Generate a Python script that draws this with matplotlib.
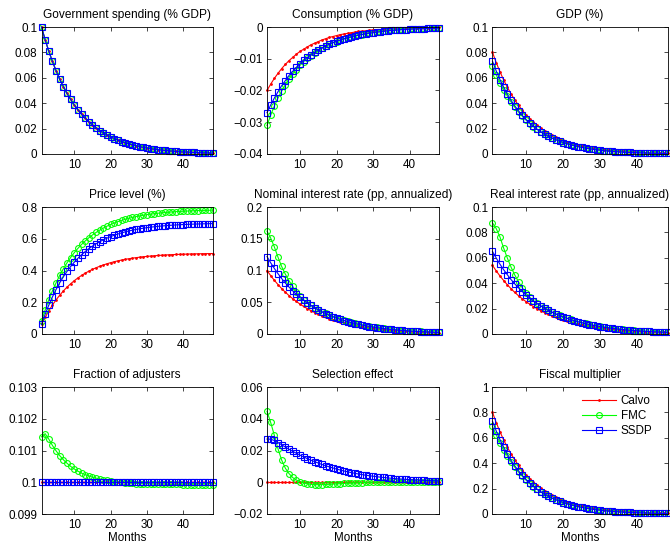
import matplotlib
matplotlib.use('Agg')
from matplotlib import pyplot as plt
from matplotlib.ticker import FuncFormatter
import numpy as np

plt.rcParams['font.family'] = ['Liberation Sans', 'DejaVu Sans']
plt.rcParams['font.size'] = 8.4

months = np.arange(1, 49)

#%% DATA

gov = [0.1000, 0.0900, 0.0810, 0.0729, 0.0656, 0.0590, 0.0531, 0.0478,
       0.0430, 0.0387, 0.0349, 0.0314, 0.0282, 0.0254, 0.0229, 0.0206,
       0.0185, 0.0167, 0.0150, 0.0135, 0.0122, 0.0109, 0.0098, 0.0089,
       0.0080, 0.0072, 0.0065, 0.0058, 0.0052, 0.0047, 0.0042, 0.0038,
       0.0034, 0.0031, 0.0028, 0.0025, 0.0023, 0.0020, 0.0018, 0.0016,
       0.0015, 0.0013, 0.0012, 0.0011, 0.0010, 0.0009, 0.0008, 0.0007]

cons_calvo = [-0.0200, -0.0180, -0.0162, -0.0146, -0.0131, -0.0118, -0.0106, -0.0096,
              -0.0086, -0.0077, -0.0070, -0.0063, -0.0056, -0.0051, -0.0046, -0.0041,
              -0.0037, -0.0033, -0.0030, -0.0027, -0.0024, -0.0022, -0.0020, -0.0018,
              -0.0016, -0.0014, -0.0013, -0.0012, -0.0010, -0.0009, -0.0008, -0.0008,
              -0.0007, -0.0006, -0.0006, -0.0005, -0.0004, -0.0004, -0.0004, -0.0003,
              -0.0003, -0.0003, -0.0002, -0.0002, -0.0002, -0.0002, -0.0002, -0.0001]
cons_fmc = [-0.0310, -0.0278, -0.0249, -0.0224, -0.0202, -0.0182, -0.0164, -0.0148,
            -0.0134, -0.0121, -0.0109, -0.0099, -0.0090, -0.0081, -0.0074, -0.0067,
            -0.0061, -0.0055, -0.0050, -0.0046, -0.0042, -0.0038, -0.0035, -0.0032,
            -0.0029, -0.0026, -0.0024, -0.0022, -0.0020, -0.0018, -0.0016, -0.0015,
            -0.0014, -0.0012, -0.0011, -0.0010, -0.0009, -0.0008, -0.0008, -0.0007,
            -0.0006, -0.0006, -0.0005, -0.0005, -0.0004, -0.0004, -0.0004, -0.0003]
cons_ssdp = [-0.0270, -0.0246, -0.0224, -0.0204, -0.0185, -0.0169, -0.0153, -0.0140,
             -0.0127, -0.0116, -0.0105, -0.0096, -0.0087, -0.0079, -0.0072, -0.0066,
             -0.0060, -0.0054, -0.0049, -0.0045, -0.0041, -0.0037, -0.0034, -0.0031,
             -0.0028, -0.0026, -0.0023, -0.0021, -0.0019, -0.0018, -0.0016, -0.0015,
             -0.0013, -0.0012, -0.0011, -0.0010, -0.0009, -0.0008, -0.0008, -0.0007,
             -0.0006, -0.0006, -0.0005, -0.0005, -0.0004, -0.0004, -0.0004, -0.0003]

gdp_calvo = [0.0800, 0.0720, 0.0648, 0.0583, 0.0525, 0.0472, 0.0425, 0.0383,
             0.0344, 0.0310, 0.0279, 0.0251, 0.0226, 0.0203, 0.0183, 0.0165,
             0.0148, 0.0133, 0.0120, 0.0108, 0.0097, 0.0088, 0.0079, 0.0071,
             0.0064, 0.0057, 0.0052, 0.0046, 0.0042, 0.0038, 0.0034, 0.0031,
             0.0027, 0.0025, 0.0022, 0.0020, 0.0018, 0.0016, 0.0015, 0.0013,
             0.0012, 0.0011, 0.0010, 0.0009, 0.0008, 0.0007, 0.0006, 0.0006]
gdp_fmc = [0.0690, 0.0622, 0.0561, 0.0505, 0.0455, 0.0409, 0.0368, 0.0330,
           0.0297, 0.0267, 0.0239, 0.0215, 0.0193, 0.0173, 0.0155, 0.0139,
           0.0125, 0.0112, 0.0100, 0.0090, 0.0080, 0.0072, 0.0065, 0.0058,
           0.0052, 0.0046, 0.0041, 0.0037, 0.0033, 0.0030, 0.0026, 0.0024,
           0.0021, 0.0019, 0.0017, 0.0015, 0.0013, 0.0012, 0.0011, 0.0010,
           0.0009, 0.0008, 0.0007, 0.0006, 0.0005, 0.0005, 0.0004, 0.0004]
gdp_ssdp = [0.0730, 0.0654, 0.0586, 0.0526, 0.0471, 0.0422, 0.0378, 0.0339,
            0.0304, 0.0272, 0.0244, 0.0218, 0.0195, 0.0175, 0.0157, 0.0140,
            0.0126, 0.0113, 0.0101, 0.0090, 0.0081, 0.0072, 0.0065, 0.0058,
            0.0052, 0.0046, 0.0041, 0.0037, 0.0033, 0.0030, 0.0026, 0.0024,
            0.0021, 0.0019, 0.0017, 0.0015, 0.0013, 0.0012, 0.0011, 0.0010,
            0.0009, 0.0008, 0.0007, 0.0006, 0.0005, 0.0005, 0.0004, 0.0004]

price_calvo = [0.0600, 0.1050, 0.1455, 0.1820, 0.2148, 0.2443, 0.2709, 0.2948,
               0.3163, 0.3357, 0.3531, 0.3688, 0.3829, 0.3956, 0.4070, 0.4173,
               0.4266, 0.4349, 0.4425, 0.4492, 0.4553, 0.4608, 0.4657, 0.4701,
               0.4741, 0.4777, 0.4809, 0.4839, 0.4865, 0.4888, 0.4909, 0.4928,
               0.4946, 0.4961, 0.4975, 0.4988, 0.4999, 0.5009, 0.5018, 0.5026,
               0.5033, 0.5040, 0.5046, 0.5051, 0.5056, 0.5061, 0.5064, 0.5068]
price_fmc = [0.0800, 0.1505, 0.2140, 0.2711, 0.3225, 0.3687, 0.4104, 0.4478,
             0.4815, 0.5119, 0.5392, 0.5638, 0.5859, 0.6058, 0.6237, 0.6398,
             0.6544, 0.6674, 0.6792, 0.6898, 0.6993, 0.7079, 0.7156, 0.7225,
             0.7287, 0.7344, 0.7395, 0.7440, 0.7481, 0.7518, 0.7551, 0.7581,
             0.7608, 0.7632, 0.7654, 0.7674, 0.7691, 0.7707, 0.7722, 0.7734,
             0.7746, 0.7756, 0.7765, 0.7774, 0.7782, 0.7789, 0.7794, 0.7800]
price_ssdp = [0.0600, 0.1240, 0.1816, 0.2334, 0.2801, 0.3221, 0.3599, 0.3939,
              0.4245, 0.4521, 0.4768, 0.4992, 0.5193, 0.5373, 0.5536, 0.5682,
              0.5814, 0.5932, 0.6039, 0.6135, 0.6222, 0.6300, 0.6370, 0.6433,
              0.6489, 0.6540, 0.6587, 0.6628, 0.6665, 0.6699, 0.6729, 0.6756,
              0.6781, 0.6802, 0.6822, 0.6840, 0.6856, 0.6870, 0.6884, 0.6895,
              0.6905, 0.6915, 0.6923, 0.6931, 0.6938, 0.6944, 0.6949, 0.6955]

nom_calvo = [0.1000, 0.0920, 0.0846, 0.0779, 0.0716, 0.0659, 0.0606, 0.0558,
             0.0513, 0.0472, 0.0434, 0.0400, 0.0368, 0.0338, 0.0311, 0.0286,
             0.0263, 0.0242, 0.0223, 0.0205, 0.0189, 0.0174, 0.0160, 0.0147,
             0.0135, 0.0124, 0.0114, 0.0105, 0.0097, 0.0089, 0.0082, 0.0075,
             0.0069, 0.0064, 0.0059, 0.0054, 0.0050, 0.0046, 0.0042, 0.0039,
             0.0036, 0.0033, 0.0030, 0.0028, 0.0026, 0.0024, 0.0022, 0.0020]
nom_fmc = [0.1620, 0.1512, 0.1373, 0.1210, 0.1064, 0.0944, 0.0840, 0.0751,
           0.0666, 0.0596, 0.0540, 0.0493, 0.0452, 0.0416, 0.0383, 0.0352,
           0.0324, 0.0299, 0.0275, 0.0253, 0.0233, 0.0215, 0.0198, 0.0182,
           0.0168, 0.0155, 0.0143, 0.0131, 0.0121, 0.0112, 0.0103, 0.0095,
           0.0088, 0.0081, 0.0075, 0.0069, 0.0064, 0.0059, 0.0054, 0.0050,
           0.0046, 0.0043, 0.0040, 0.0037, 0.0034, 0.0032, 0.0029, 0.0027]
nom_ssdp = [0.1220, 0.1122, 0.1033, 0.0950, 0.0874, 0.0804, 0.0740, 0.0681,
            0.0626, 0.0576, 0.0530, 0.0488, 0.0449, 0.0413, 0.0380, 0.0349,
            0.0321, 0.0296, 0.0272, 0.0250, 0.0230, 0.0212, 0.0195, 0.0179,
            0.0165, 0.0152, 0.0140, 0.0128, 0.0118, 0.0109, 0.0100, 0.0092,
            0.0085, 0.0078, 0.0072, 0.0066, 0.0061, 0.0056, 0.0051, 0.0047,
            0.0043, 0.0040, 0.0037, 0.0034, 0.0031, 0.0029, 0.0026, 0.0024]

real_calvo = [0.0540, 0.0497, 0.0457, 0.0421, 0.0387, 0.0356, 0.0327, 0.0301,
              0.0277, 0.0255, 0.0235, 0.0216, 0.0199, 0.0183, 0.0168, 0.0155,
              0.0142, 0.0131, 0.0120, 0.0111, 0.0102, 0.0094, 0.0086, 0.0079,
              0.0073, 0.0067, 0.0062, 0.0057, 0.0052, 0.0048, 0.0044, 0.0041,
              0.0037, 0.0034, 0.0032, 0.0029, 0.0027, 0.0025, 0.0023, 0.0021,
              0.0019, 0.0018, 0.0016, 0.0015, 0.0014, 0.0013, 0.0012, 0.0011]
real_fmc = [0.0875, 0.0830, 0.0764, 0.0676, 0.0597, 0.0525, 0.0464, 0.0410,
            0.0364, 0.0322, 0.0289, 0.0263, 0.0241, 0.0222, 0.0204, 0.0188,
            0.0173, 0.0159, 0.0147, 0.0135, 0.0125, 0.0115, 0.0106, 0.0097,
            0.0090, 0.0083, 0.0076, 0.0070, 0.0065, 0.0060, 0.0055, 0.0051,
            0.0047, 0.0043, 0.0040, 0.0037, 0.0034, 0.0031, 0.0029, 0.0027,
            0.0025, 0.0023, 0.0021, 0.0019, 0.0018, 0.0016, 0.0015, 0.0014]
real_ssdp = [0.0650, 0.0598, 0.0550, 0.0506, 0.0466, 0.0428, 0.0394, 0.0363,
             0.0334, 0.0307, 0.0282, 0.0260, 0.0239, 0.0220, 0.0202, 0.0186,
             0.0171, 0.0157, 0.0145, 0.0133, 0.0123, 0.0113, 0.0104, 0.0095,
             0.0088, 0.0081, 0.0074, 0.0068, 0.0063, 0.0058, 0.0053, 0.0049,
             0.0045, 0.0041, 0.0038, 0.0035, 0.0032, 0.0030, 0.0027, 0.0025,
             0.0023, 0.0021, 0.0020, 0.0018, 0.0017, 0.0015, 0.0014, 0.0013]

adj_calvo = [0.1] * 48
adj_fmc = [0.10143, 0.10153, 0.10136, 0.10116, 0.10099, 0.10084, 0.10071, 0.10060,
           0.10050, 0.10042, 0.10035, 0.10029, 0.10024, 0.10020, 0.10016, 0.10013,
           0.10010, 0.10008, 0.10006, 0.10004, 0.10002, 0.10001, 0.10000, 0.09999,
           0.09998, 0.09997, 0.09996, 0.09996, 0.09995, 0.09995, 0.09995, 0.09994,
           0.09994, 0.09994, 0.09994, 0.09993, 0.09993, 0.09993, 0.09993, 0.09992,
           0.09992, 0.09992, 0.09992, 0.09992, 0.09991, 0.09991, 0.09991, 0.09991]
adj_ssdp = [0.1] * 48

sel_calvo = [0.0] * 48
sel_fmc = [0.0447, 0.0377, 0.0296, 0.0211, 0.0140, 0.0089, 0.0055, 0.0030,
           0.0014, 0.0004, -0.0004, -0.0010, -0.0013, -0.0015, -0.0015, -0.0015,
           -0.0014, -0.0013, -0.0012, -0.0010, -0.0009, -0.0007, -0.0006, -0.0005,
           -0.0004, -0.0003, -0.0002, -0.0001, 0.0000, 0.0000, 0.0001, 0.0001,
           0.0002, 0.0002, 0.0002, 0.0002, 0.0002, 0.0003, 0.0003, 0.0003,
           0.0003, 0.0003, 0.0003, 0.0003, 0.0003, 0.0003, 0.0003, 0.0003]
sel_ssdp = [0.0272, 0.0271, 0.0263, 0.0250, 0.0236, 0.0222, 0.0208, 0.0195,
            0.0183, 0.0171, 0.0160, 0.0149, 0.0139, 0.0130, 0.0121, 0.0112,
            0.0104, 0.0097, 0.0090, 0.0083, 0.0077, 0.0071, 0.0066, 0.0061,
            0.0056, 0.0052, 0.0048, 0.0044, 0.0041, 0.0038, 0.0035, 0.0032,
            0.0030, 0.0027, 0.0025, 0.0023, 0.0021, 0.0020, 0.0018, 0.0017,
            0.0015, 0.0014, 0.0013, 0.0012, 0.0011, 0.0010, 0.0009, 0.0008]

mult_calvo = [0.800, 0.720, 0.648, 0.583, 0.525, 0.472, 0.425, 0.383,
              0.344, 0.310, 0.279, 0.251, 0.226, 0.203, 0.183, 0.165,
              0.148, 0.133, 0.120, 0.108, 0.097, 0.088, 0.079, 0.071,
              0.064, 0.057, 0.052, 0.046, 0.042, 0.038, 0.034, 0.031,
              0.027, 0.025, 0.022, 0.020, 0.018, 0.016, 0.015, 0.013,
              0.012, 0.011, 0.010, 0.009, 0.008, 0.007, 0.006, 0.006]
mult_fmc = [0.690, 0.622, 0.561, 0.505, 0.455, 0.409, 0.368, 0.330,
            0.297, 0.267, 0.239, 0.215, 0.193, 0.173, 0.155, 0.139,
            0.125, 0.112, 0.100, 0.090, 0.080, 0.072, 0.065, 0.058,
            0.052, 0.046, 0.041, 0.037, 0.033, 0.030, 0.026, 0.024,
            0.021, 0.019, 0.017, 0.015, 0.013, 0.012, 0.011, 0.010,
            0.009, 0.008, 0.007, 0.006, 0.005, 0.005, 0.004, 0.004]
mult_ssdp = [0.730, 0.654, 0.586, 0.526, 0.471, 0.422, 0.378, 0.339,
             0.304, 0.272, 0.244, 0.218, 0.195, 0.175, 0.157, 0.140,
             0.126, 0.113, 0.101, 0.090, 0.081, 0.072, 0.065, 0.058,
             0.052, 0.046, 0.041, 0.037, 0.033, 0.030, 0.026, 0.024,
             0.021, 0.019, 0.017, 0.015, 0.013, 0.012, 0.011, 0.010,
             0.009, 0.008, 0.007, 0.006, 0.005, 0.005, 0.004, 0.004]

# title, ymin, ymax, ystep, series
panels = [
    ('Government spending (% GDP)', 0, 0.1, 0.02, gov, gov, gov),
    ('Consumption (% GDP)', -0.04, 0, 0.01, cons_calvo, cons_fmc, cons_ssdp),
    ('GDP (%)', 0, 0.1, 0.02, gdp_calvo, gdp_fmc, gdp_ssdp),
    ('Price level (%)', 0, 0.8, 0.2, price_calvo, price_fmc, price_ssdp),
    ('Nominal interest rate (pp, annualized)', 0, 0.2, 0.05, nom_calvo, nom_fmc, nom_ssdp),
    ('Real interest rate (pp, annualized)', 0, 0.1, 0.02, real_calvo, real_fmc, real_ssdp),
    ('Fraction of adjusters', 0.099, 0.103, 0.001, adj_calvo, adj_fmc, adj_ssdp),
    ('Selection effect', -0.02, 0.06, 0.02, sel_calvo, sel_fmc, sel_ssdp),
    ('Fiscal multiplier', 0, 1, 0.2, mult_calvo, mult_fmc, mult_ssdp),
]

#%% FIGURE

W, H = 670, 543
cols = [(41.5, 212.5), (267, 439), (492.5, 667.5)]
rows = [(27, 154), (207, 334), (387, 514)]

def tick_fmt(v, pos):
    return ('%g' % v).replace('-', '\u2212')

fig = plt.figure(figsize=(W / 100, H / 100), dpi=100)

for i, (title, lo, hi, step, calvo, fmc, ssdp) in enumerate(panels):
    r, c = divmod(i, 3)
    x0, x1 = cols[c]
    y0, y1 = rows[r]
    ax = fig.add_axes([x0 / W, 1 - y1 / H, (x1 - x0) / W, (y1 - y0) / H])
    ax.plot(months, calvo, '-', color='red', marker='.', ms=2, lw=0.8,
            label='Calvo', clip_on=False)
    ax.plot(months, fmc, '-', color=(0, 1, 0), marker='o', ms=4.2, mfc='none',
            mew=0.8, lw=0.8, label='FMC', clip_on=False)
    ax.plot(months, ssdp, '-', color='blue', marker='s', ms=4.2, mfc='none',
            mew=0.8, lw=0.8, label='SSDP', clip_on=False)
    ax.set_xlim(1, 48)
    ax.set_ylim(lo, hi)
    ax.set_xticks([10, 20, 30, 40])
    ax.set_yticks(np.round(np.arange(lo, hi + step / 2, step), 6))
    ax.yaxis.set_major_formatter(FuncFormatter(tick_fmt))
    ax.tick_params(direction='in', top=True, right=True, length=3, width=0.5)
    ax.tick_params(axis='y', pad=3)
    ax.tick_params(axis='x', pad=3.5)
    for sp in ax.spines.values():
        sp.set_linewidth(0.6)
    ax.set_title(title, fontsize=8.6, pad=6.5)
    if r == 2:
        ax.set_xlabel('Months', labelpad=1)
    if i == 8:
        ax.legend(loc='upper right', bbox_to_anchor=(0.94, 0.97), frameon=False,
                  handlelength=2.9, handletextpad=0.4, labelspacing=0.25,
                  borderaxespad=0)

fig.savefig('out.png', dpi=100)
